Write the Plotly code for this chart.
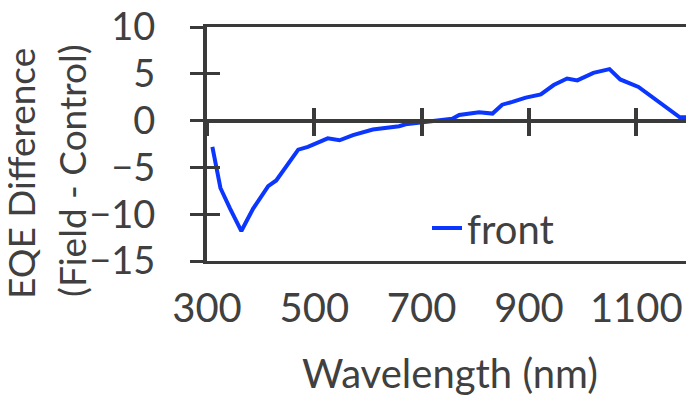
import plotly.graph_objects as go

wavelength = [310, 325, 343, 364, 386, 414, 429, 470, 488, 507, 525, 547, 572, 609,
              658, 670, 695, 726, 757, 770, 788, 807, 832, 850, 869, 894, 922, 946,
              971, 990, 1020, 1050, 1070, 1104, 1181, 1200]
eqe_diff = [-2.8, -7.2, -9.4, -11.8, -9.4, -7.0, -6.4, -3.1, -2.8, -2.3, -1.9, -2.1,
            -1.55, -0.95, -0.6, -0.4, -0.2, 0.05, 0.2, 0.6, 0.7, 0.9, 0.75, 1.7,
            2.0, 2.45, 2.8, 3.8, 4.5, 4.3, 5.1, 5.5, 4.4, 3.6, 0.35, 0.35]
x_ticks = [300, 500, 700, 900, 1100]
y_ticks = [-15, -10, -5, 0, 5, 10]

AX = "#3a3a3a"
TXT = "#404040"
FONT = "Lato"
FS = 40

fig = go.Figure()
fig.add_trace(go.Scatter(x=wavelength, y=eqe_diff, mode="lines", name="front",
                         line=dict(color="#0a36ff", width=4)))

common_x = dict(range=[300, 1200], showgrid=False, zeroline=False, automargin=False)
fig.update_layout(
    width=686, height=389,
    margin=dict(l=199, r=4, t=19, b=136),
    plot_bgcolor="white", paper_bgcolor="white",
    font=dict(family=FONT, color=TXT, size=FS),
    showlegend=True,
    legend=dict(x=(427 - 207) / 483, y=(261 - 228) / 234, xanchor="left", yanchor="middle",
                bgcolor="rgba(0,0,0,0)", font=dict(size=FS, family=FONT, color=TXT),
                itemwidth=30, tracegroupgap=0),
    xaxis=dict(**common_x, tickvals=x_ticks, ticks="", showline=True, mirror=True,
               linecolor=AX, linewidth=3, ticklabelstandoff=10, ticklabeloverflow="allow",
               tickfont=dict(size=FS, family=FONT, color=TXT)),
    xaxis2=dict(**common_x, overlaying="x", anchor="free", position=0.6, side="bottom",
                tickvals=x_ticks, ticks="outside", ticklen=13, tickwidth=4, tickcolor=AX,
                showticklabels=False, showline=True, linecolor=AX, linewidth=4),
    xaxis3=dict(**common_x, overlaying="x", anchor="free", position=0.6, side="bottom",
                tickvals=x_ticks, ticks="inside", ticklen=13, tickwidth=4, tickcolor=AX,
                showticklabels=False, showline=False),
    yaxis=dict(range=[-15, 10], tickvals=y_ticks, ticks="outside", ticklen=13, tickwidth=3,
               tickcolor=AX, showline=True, mirror=True, linecolor=AX, linewidth=4,
               showgrid=False, zeroline=False, ticklabelstandoff=27, automargin=False,
               ticklabeloverflow="allow",
               tickfont=dict(size=38, family=FONT, color=TXT)),
    yaxis2=dict(range=[-15, 10], overlaying="y", anchor="x", side="left", automargin=False,
                tickvals=y_ticks, ticks="inside", ticklen=13, tickwidth=3, tickcolor=AX,
                showticklabels=False, showline=False, showgrid=False, zeroline=False),
)
# dummy traces to activate overlay axes
fig.add_trace(go.Scatter(x=[None], y=[None], xaxis="x2", yaxis="y", showlegend=False))
fig.add_trace(go.Scatter(x=[None], y=[None], xaxis="x3", yaxis="y2", showlegend=False))

fig.add_annotation(text="Wavelength (nm)", xref="paper", yref="paper",
                   x=(450 - 207) / 483, y=(261 - 373) / 234, showarrow=False,
                   xanchor="center", yanchor="middle",
                   font=dict(size=FS, family=FONT, color=TXT))
fig.add_annotation(text="EQE Difference", xref="paper", yref="paper",
                   x=(20 - 207) / 483, y=(261 - 174) / 234, showarrow=False, textangle=-90,
                   xanchor="center", yanchor="middle",
                   font=dict(size=37, family=FONT, color=TXT))
fig.add_annotation(text="(Field - Control)", xref="paper", yref="paper",
                   x=(71 - 207) / 483, y=(261 - 171) / 234, showarrow=False, textangle=-90,
                   xanchor="center", yanchor="middle",
                   font=dict(size=37, family=FONT, color=TXT))

fig.write_html("out.html")
